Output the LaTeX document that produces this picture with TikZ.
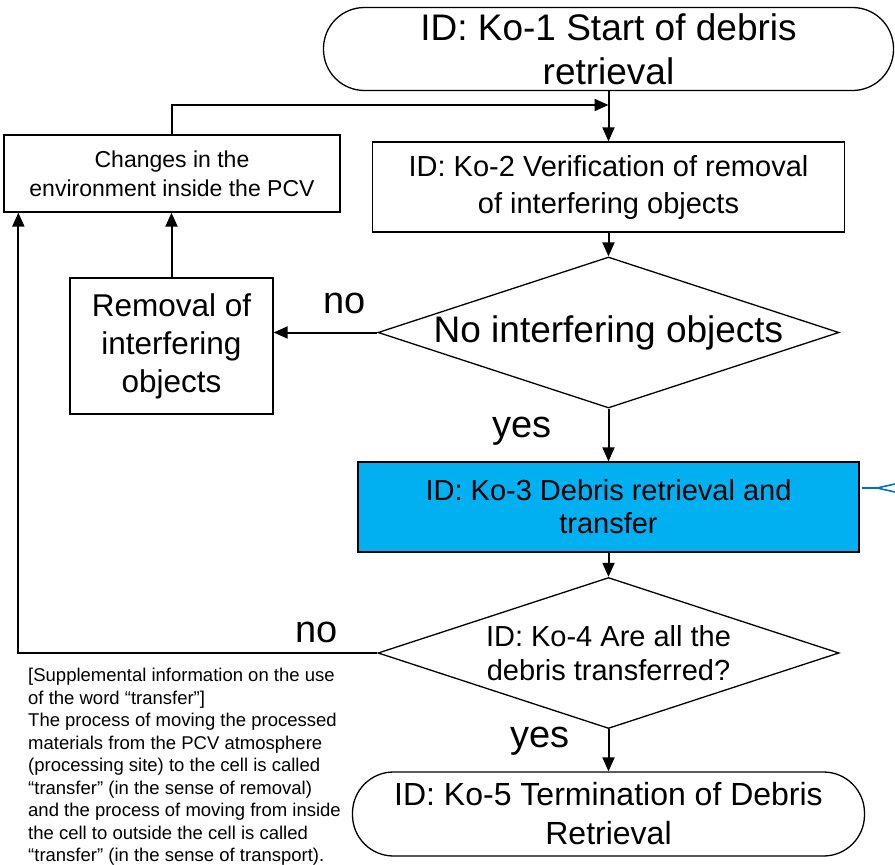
\documentclass[tikz,border=0pt]{standalone}
\usepackage{fontspec}
\setmainfont{Liberation Sans}
\usetikzlibrary{shapes.geometric,arrows.meta}
\definecolor{procblue}{HTML}{00B0F0}
\definecolor{calloutblue}{HTML}{0070C0}
\tikzset{
  box/.style={draw=black, line width=1.3pt, fill=white, inner sep=0pt, align=center},
  terminal/.style={box, rounded corners=41pt},
  decision/.style={diamond, draw=black, line width=1.3pt, fill=white, inner sep=0pt,
                   minimum width=461pt, minimum height=151pt},
  flow/.style={line width=2pt, -{Triangle[length=14pt,width=12pt]}},
  answer/.style={inner sep=0pt, font=\fontsize{38}{44}\selectfont},
  callout/.style={draw=calloutblue, line width=1.6pt},
}
\begin{document}
\begin{tikzpicture}[x=1pt,y=-1pt]
\useasboundingbox (0,0) rectangle (895,865);

% main column
\node[terminal, minimum width=570pt, minimum height=83pt,
      font=\fontsize{37}{44}\selectfont] (ko1) at (608.5,49)
      {ID: Ko-1 Start of debris\\retrieval};
\node[box, minimum width=472pt, minimum height=90pt,
      font=\fontsize{29}{37}\selectfont] (ko2) at (608.5,187)
      {ID: Ko-2 Verification of removal\\of interfering objects};
\node[decision, label={[font=\fontsize{37}{44}\selectfont]center:{No interfering objects}}]
      (d1) at (608.5,332.5) {};
\node[box, fill=procblue, minimum width=501pt, minimum height=90pt,
      font=\fontsize{29}{33}\selectfont] (ko3) at (608.5,507)
      {ID: Ko-3 Debris retrieval and\\transfer};
\node[decision, label={[font=\fontsize{29}{34}\selectfont, align=center]center:{ID: Ko-4 Are all the\\debris transferred?}}]
      (d2) at (608.5,653) {};
\node[terminal, minimum width=512pt, minimum height=84pt,
      font=\fontsize{32}{39}\selectfont] (ko5) at (608.5,814)
      {ID: Ko-5 Termination of Debris\\Retrieval};

% side loop
\node[box, minimum width=336pt, minimum height=77pt,
      font=\fontsize{23}{29}\selectfont] (chg) at (172,173.5)
      {Changes in the\\environment inside the PCV};
\node[box, minimum width=203pt, minimum height=136pt,
      font=\fontsize{31.5}{38}\selectfont] (rem) at (171.5,346)
      {Removal of\\interfering\\objects};

% connectors
\coordinate (merge) at (608.5,105);
\draw[flow] (ko1.south) -- (ko2.north);
\draw[flow] (chg.north) |- (merge);
\draw[flow] (ko2.south) -- (d1.north);
\draw[flow] (d1.west) -- (d1.west -| rem.east);
\draw[flow] (rem.north) -- (rem.north |- chg.south);
\draw[flow] (d1.south) -- (ko3.north);
\draw[flow] (ko3.south) -- (d2.north);
\draw[flow] (d2.west) -| ([xshift=15pt]chg.south west);
\draw[flow] (d2.south) -- (ko5.north);

% branch labels
\node[answer, anchor=base east] (no1) at (366,313) {no};
\node[answer, anchor=base east] (no2) at (338,642) {no};
\node[answer, anchor=base west] (yes1) at (492,437) {yes};
\node[answer, anchor=base west] (yes2) at (510,747) {yes};

% note on wording
\node[anchor=north west, inner sep=0pt, align=left,
      font=\fontsize{18.5}{22.5}\selectfont] (note) at (28,668)
{[Supplemental information on the use\\
of the word “transfer”]\\
The process of moving the processed\\
materials from the PCV atmosphere\\
(processing site) to the cell is called\\
“transfer” (in the sense of removal)\\
and the process of moving from inside\\
the cell to outside the cell is called\\
“transfer” (in the sense of transport).};

% callout leader leaving the retrieval step
\coordinate (fork) at (877,488);
\coordinate (forkA) at (895,484);
\coordinate (forkB) at (895,492);
\draw[callout] ([xshift=2pt]ko3.east |- fork) -- (fork);
\draw[callout] (fork) -- (forkA);
\draw[callout] (fork) -- (forkB);
\end{tikzpicture}
\end{document}
